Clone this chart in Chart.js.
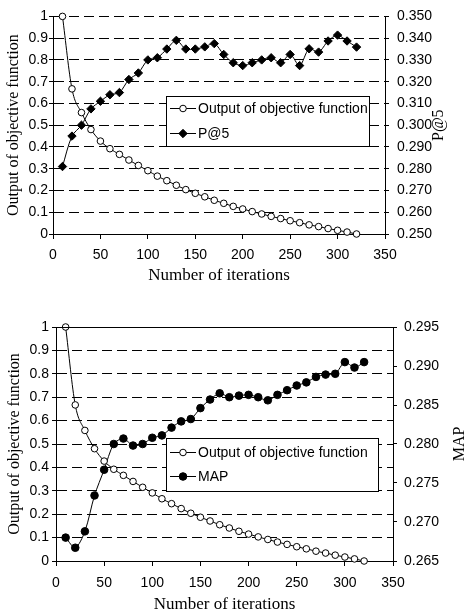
<!DOCTYPE html>
<html>
<head>
<meta charset="utf-8">
<script src="https://cdn.jsdelivr.net/npm/chart.js@4.4.1/dist/chart.umd.min.js"></script>
<style>
  body { margin: 0; background: #fff; }
  canvas { position: absolute; left: 0; }
</style>
</head>
<body>
<canvas id="chart-p5" width="467" height="290" style="top:0"></canvas>
<canvas id="chart-map" width="467" height="314" style="top:300px"></canvas>
<script>
const iterations = [10, 20, 30, 40, 50, 60, 70, 80, 90, 100, 110, 120, 130, 140, 150, 160,
    170, 180, 190, 200, 210, 220, 230, 240, 250, 260, 270, 280, 290, 300, 310, 320];
const objectiveOutput = [1.000, 0.667, 0.558, 0.480, 0.427, 0.392, 0.366, 0.340, 0.315, 0.291, 0.266, 0.245,
    0.224, 0.204, 0.187, 0.171, 0.155, 0.141, 0.127, 0.115, 0.103, 0.092, 0.081, 0.071,
    0.061, 0.052, 0.042, 0.034, 0.025, 0.017, 0.009, 0.000];
const precisionAt5 = [0.2810, 0.2950, 0.3000, 0.3075, 0.3110, 0.3140, 0.3150, 0.3210, 0.3240, 0.3300, 0.3310, 0.3350,
    0.3390, 0.3350, 0.3350, 0.3360, 0.3375, 0.3325, 0.3287, 0.3274, 0.3287, 0.3300, 0.3310, 0.3287,
    0.3325, 0.3274, 0.3351, 0.3336, 0.3387, 0.3414, 0.3387, 0.3359];
const meanAvgPrecision = [0.2680, 0.2667, 0.2688, 0.2734, 0.2767, 0.2800, 0.2807, 0.2798, 0.2800, 0.2808, 0.2811, 0.2821,
    0.2829, 0.2832, 0.2846, 0.2857, 0.2865, 0.2860, 0.2862, 0.2863, 0.2860, 0.2856, 0.2863, 0.2869,
    0.2875, 0.2879, 0.2886, 0.2889, 0.2890, 0.2905, 0.2898, 0.2905];

const seriesLabels = ['Output of objective function', 'P@5', 'MAP'];
const axisTitles = ['Number of iterations', 'Output of objective function'];
const iterTicks = [0, 350, 50];          // min, max, step
const objectiveTicks = [0, 1, 0.1];
const p5Ticks = [0.25, 0.35, 0.01];
const mapTicks = [0.265, 0.295, 0.005];

const ARIAL = '"Liberation Sans", Arial, sans-serif';
const TIMES = '"Liberation Serif", "Times New Roman", serif';

const toPoints = vals => vals.map((v, i) => ({ x: iterations[i], y: v }));

function drawMarker(ctx, ds, x, y) {
    const r = ds.pointRadius;
    ctx.beginPath();
    if (ds.pointStyle === 'rectRot') {
        ctx.moveTo(x, y - r); ctx.lineTo(x + r, y); ctx.lineTo(x, y + r); ctx.lineTo(x - r, y); ctx.closePath();
    } else {
        ctx.arc(x, y, r, 0, Math.PI * 2);
    }
    ctx.fillStyle = ds.pointBackgroundColor;
    ctx.fill(); ctx.stroke();
}

// legend box inside the plot, right axis title read bottom-to-top, optional solid top frame
const decor = {
    id: 'decor',
    afterDraw(chart, args, o) {
        const ctx = chart.ctx, area = chart.chartArea;
        ctx.save();
        ctx.strokeStyle = '#000'; ctx.lineWidth = 1;
        if (o.frameTop) {
            const t = Math.round(area.top) + 0.5;
            ctx.beginPath(); ctx.moveTo(area.left, t); ctx.lineTo(area.right, t); ctx.stroke();
        }
        ctx.save();
        ctx.fillStyle = '#000';
        ctx.font = `16px ${TIMES}`;
        ctx.translate(o.titleX, (area.top + area.bottom) / 2);
        ctx.rotate(-Math.PI / 2);
        ctx.textAlign = 'center'; ctx.textBaseline = 'middle';
        ctx.fillText(o.rightTitle, 0, 0);
        ctx.restore();

        const b = o.box;
        ctx.fillStyle = '#fff';
        ctx.fillRect(b.x, b.y, b.w, b.h);
        ctx.strokeRect(b.x + 0.5, b.y + 0.5, b.w, b.h);
        ctx.font = `14px ${ARIAL}`;
        ctx.textAlign = 'left'; ctx.textBaseline = 'middle';
        chart.data.datasets.forEach((ds, i) => {
            const y = Math.round(b.y + b.first + i * b.gap) + 0.5;
            ctx.beginPath(); ctx.moveTo(b.x + 4, y); ctx.lineTo(b.x + 30, y); ctx.stroke();
            drawMarker(ctx, ds, b.x + 17, y);
            ctx.fillStyle = '#000';
            ctx.fillText(ds.label, b.x + 32, y + 1);
        });
        ctx.restore();
    }
};

function serie(label, values, axis, style, radius, fill) {
    return {
        label, data: toPoints(values), yAxisID: axis,
        borderColor: '#000', borderWidth: 1, tension: 0.3,
        pointStyle: style, pointRadius: radius, pointHoverRadius: radius,
        pointBackgroundColor: fill, pointBorderColor: '#000', pointBorderWidth: 1,
        clip: false
    };
}

function buildScales(rightTicks, d) {
    const tickFont = { family: ARIAL, size: 14 };
    return {
        x: {
            type: 'linear', min: iterTicks[0], max: iterTicks[1],
            ticks: { stepSize: iterTicks[2], color: '#000', font: tickFont, padding: d.xPad, maxRotation: 0 },
            grid: { drawOnChartArea: false, color: '#000', tickLength: 5 },
            border: { color: '#000' },
            title: { display: true, text: axisTitles[0], color: '#000',
                font: { family: TIMES, size: 17, lineHeight: 1.1 }, padding: { top: 0, bottom: d.xTitlePad } },
            afterFit: s => { s.height = d.xH; }
        },
        y: {
            position: 'left', min: objectiveTicks[0], max: objectiveTicks[1],
            ticks: { stepSize: objectiveTicks[2], color: '#000', font: tickFont, padding: d.yPad,
                callback: v => String(+v.toFixed(1)) },
            grid: { color: '#000', tickLength: 4, tickBorderDash: [] },
            border: { color: '#000', dash: [10, 5] },
            title: { display: true, text: axisTitles[1], color: '#000',
                font: { family: TIMES, size: 16, lineHeight: 1.1 }, padding: { top: d.yTitlePad, bottom: 0 } },
            afterFit: s => { s.width = d.yW; }
        },
        y1: {
            position: 'right', min: rightTicks[0], max: rightTicks[1],
            ticks: { stepSize: rightTicks[2], color: '#000', font: tickFont, padding: d.y1Pad,
                callback: v => v.toFixed(3) },
            grid: { drawOnChartArea: false, color: '#000', tickLength: 4 },
            border: { color: '#000' },
            afterFit: s => { s.width = d.y1W; }
        }
    };
}

function buildChart(id, second, rightTicks, d, decorOpts) {
    const objective = serie(seriesLabels[0], objectiveOutput, 'y', 'circle', 3.3, '#fff');
    objective.cubicInterpolationMode = 'monotone';
    return new Chart(document.getElementById(id), {
        type: 'line',
        data: { datasets: [objective, second] },
        options: {
            responsive: false, animation: false, devicePixelRatio: 1,
            layout: { padding: { top: d.top, left: 0, right: 0, bottom: 0 } },
            plugins: { legend: { display: false }, tooltip: { enabled: false }, decor: decorOpts },
            scales: buildScales(rightTicks, d)
        },
        plugins: [decor]
    });
}

buildChart('chart-p5',
    serie(seriesLabels[1], precisionAt5, 'y1', 'rectRot', 4.2, '#000'),
    p5Ticks,
    { top: 10, yW: 53, y1W: 82, xH: 56, xPad: 8, yPad: 1, y1Pad: 8, xTitlePad: 5, yTitlePad: 5 },
    { rightTitle: seriesLabels[1], titleX: 439, frameTop: false,
      box: { x: 166, y: 96, w: 203, h: 50, first: 12, gap: 25 } });

buildChart('chart-map',
    serie(seriesLabels[2], meanAvgPrecision, 'y1', 'circle', 3.8, '#000'),
    mapTicks,
    { top: 27, yW: 56, y1W: 74, xH: 53, xPad: 9, yPad: 3, y1Pad: 7, xTitlePad: 0, yTitlePad: 6 },
    { rightTitle: seriesLabels[2], titleX: 460, frameTop: true,
      box: { x: 166, y: 138, w: 212, h: 53, first: 14, gap: 24 } });
</script>
</body>
</html>
